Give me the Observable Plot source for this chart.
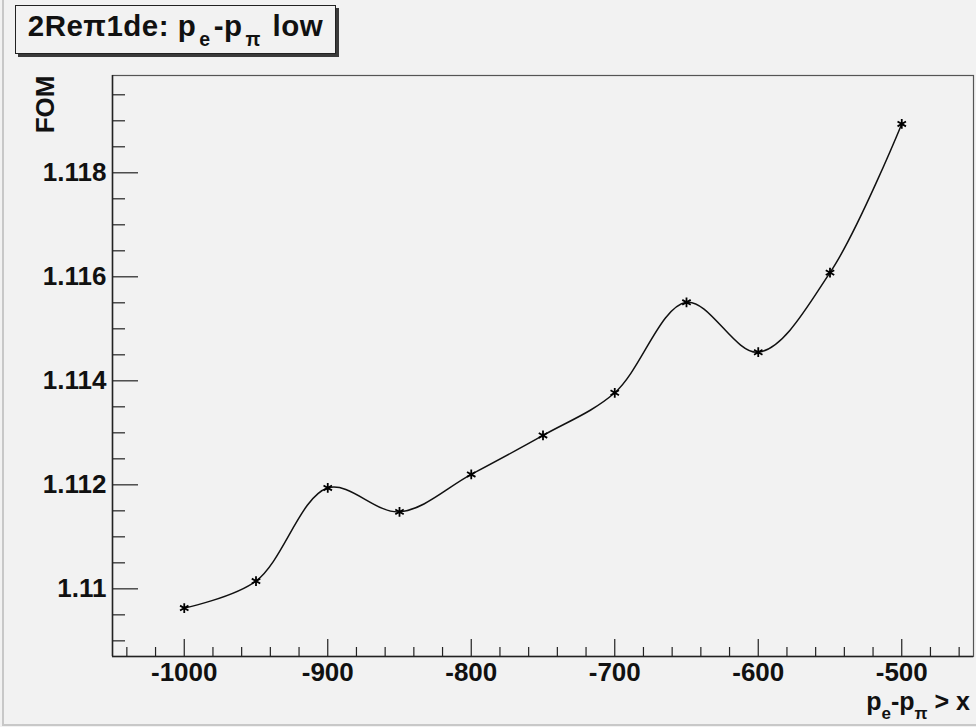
<!DOCTYPE html>
<html>
<head>
<meta charset="utf-8">
<script src="https://cdn.jsdelivr.net/npm/d3@7"></script>
<script src="https://cdn.jsdelivr.net/npm/@observablehq/plot@0.6"></script>
<style>
  html, body { margin: 0; padding: 0; background: #f2f2f2; }
  #canvas {
    position: relative; width: 976px; height: 727px; background: #f2f2f2;
    font-family: "Liberation Sans", Arial, Helvetica, sans-serif; overflow: hidden;
  }
  #edge {
    position: absolute; left: 2px; top: 0; width: 974px; height: 724px;
    border-left: 2px solid #c8c8c8; border-bottom: 2px solid #c8c8c8;
  }
  #title {
    position: absolute; left: 15px; top: 5px; width: 319px; height: 47px;
    border: 1.5px solid #222; box-shadow: 3px 3px 0 #3a3a3a; background: #f2f2f2;
    font-weight: bold; font-size: 29.5px; line-height: 40px; text-align: center;
    color: #111; white-space: nowrap; letter-spacing: 0.5px;
  }
  #title sub { font-size: 0.66em; vertical-align: -0.5em; line-height: 0; margin: 0 3px; }
  #chart { position: absolute; left: 0; top: 0; }
</style>
</head>
<body>
<div id="canvas">
  <div id="edge"></div>
  <div id="chart"></div>
  <div id="title">2Reπ1de: p<sub>e</sub>-p<sub>π</sub> low</div>
</div>
<script>
// Cut value on p_e - p_pi and the resulting figure of merit
const cuts = [-1000, -950, -900, -850, -800, -750, -700, -650, -600, -550, -500];
const fom  = [1.10963, 1.11015, 1.11194, 1.11148, 1.11220, 1.11295,
              1.11377, 1.11551, 1.11455, 1.11608, 1.11894];

// Labelled axis ticks
const xMajor = [-1000, -900, -800, -700, -600, -500];
const yMajor = [1.11, 1.112, 1.114, 1.116, 1.118];

const points = cuts.map((c, i) => ({cut: c, fom: fom[i]}));

// Axis ranges padded by 10% of the data span on each side
const pad = (lo, hi) => [lo - 0.1 * (hi - lo), hi + 0.1 * (hi - lo)];
const xDomain = pad(d3.min(cuts), d3.max(cuts));
const yDomain = pad(d3.min(fom), d3.max(fom));

// Minor ticks: 5 divisions per x step, 4 per y step
const xMinor = d3.range(-1040, -450, 20).filter(v => !xMajor.includes(v));
const yMinor = d3.range(1.109, 1.1199, 0.0005).map(v => +v.toFixed(4))
  .filter(v => v > yDomain[0] && v < yDomain[1] && !yMajor.some(m => Math.abs(m - v) < 1e-6));

const W = 976, H = 727, mL = 112, mR = 3, mT = 75, mB = 71;
const fw = W - mL - mR, fh = H - mT - mB;
const font = '"Liberation Sans", Arial, Helvetica, sans-serif';

const chart = Plot.plot({
  width: W, height: H,
  marginLeft: mL, marginRight: mR, marginTop: mT, marginBottom: mB,
  style: {background: "transparent", fontFamily: font, color: "#111"},
  x: {domain: xDomain},
  y: {domain: yDomain},
  marks: [
    Plot.frame({stroke: "#555", strokeWidth: 1.2}),
    // inward ticks on the left axis
    Plot.tickY(yMajor, {y: d => d, insetRight: fw - 26, stroke: "#222", strokeWidth: 1.2}),
    Plot.tickY(yMinor, {y: d => d, insetRight: fw - 13, stroke: "#222", strokeWidth: 1.2}),
    // inward ticks on the bottom axis
    Plot.tickX(xMajor, {x: d => d, insetTop: fh - 17, stroke: "#222", strokeWidth: 1.2}),
    Plot.tickX(xMinor, {x: d => d, insetTop: fh - 9, stroke: "#222", strokeWidth: 1.2}),
    Plot.ruleX([xDomain[0]], {stroke: "#222", strokeWidth: 1.5}),
    Plot.ruleY([yDomain[0]], {stroke: "#222", strokeWidth: 1.5}),
    Plot.axisY(yMajor, {
      tickSize: 0, tickPadding: 6, fontSize: 26, fontWeight: "bold",
      tickFormat: d => String(+d.toFixed(3)), label: null
    }),
    Plot.axisX(xMajor, {
      tickSize: 0, tickPadding: 6, fontSize: 26, fontWeight: "bold",
      tickFormat: d => String(d), label: null
    }),
    Plot.text(["FOM"], {
      frameAnchor: "top-left", text: d => d, rotate: -90, textAnchor: "end",
      lineAnchor: "bottom", dx: -59, fontSize: 26, fontWeight: "bold"
    }),
    Plot.line(points, {x: "cut", y: "fom", curve: "catmull-rom", stroke: "#111", strokeWidth: 1.5}),
    Plot.dot(points, {x: "cut", y: "fom", symbol: "asterisk", r: 4.6, stroke: "#000", strokeWidth: 1.8})
  ]
});
document.getElementById("chart").appendChild(chart);

// x-axis title with subscripts, right-aligned under the axis
const svg = d3.select(chart);
const xt = svg.append("text")
  .attr("x", W - 6).attr("y", 710)
  .attr("text-anchor", "end")
  .attr("font-family", font).attr("font-weight", "bold").attr("font-size", 25)
  .attr("fill", "#111");
xt.append("tspan").text("p");
xt.append("tspan").attr("font-size", 17).attr("dy", 9).text("e");
xt.append("tspan").attr("dy", -9).text("-p");
xt.append("tspan").attr("font-size", 17).attr("dy", 9).text("π");
xt.append("tspan").attr("dy", -9).text(" > x");
</script>
</body>
</html>
